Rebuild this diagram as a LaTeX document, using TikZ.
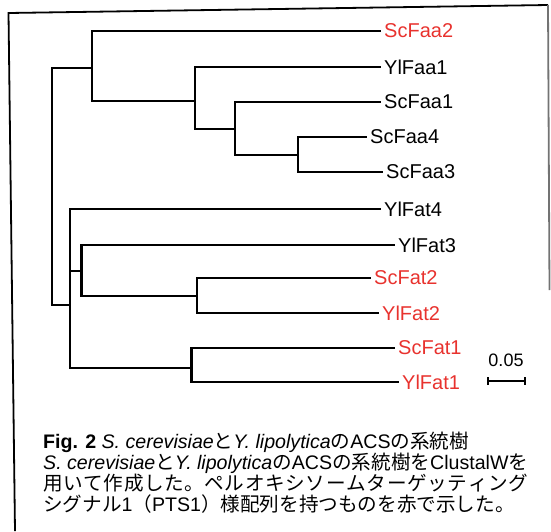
\documentclass[tikz,border=0pt]{standalone}
\usepackage{fontspec}
\setmainfont{Liberation Sans}
\newfontfamily\jpfont{Noto Sans CJK JP}
\newcommand\jp[1]{{\jpfont #1}}
\usetikzlibrary{arrows.meta}
\XeTeXlinebreaklocale "ja"
\XeTeXlinebreakskip=0pt plus 4pt minus 0.5pt
\definecolor{ptsred}{RGB}{232,50,46}
\newcommand\capline[1]{\parbox[b]{485pt}{\parfillskip=0pt\relax #1}}

\begin{document}
\begin{tikzpicture}[x=1pt, y=-1pt,
  branch/.style={line width=2.6pt, line join=miter},
  frameline/.style={line width=1.8pt},
  leaf/.style={anchor=west, inner sep=0pt, font=\fontsize{20}{24}\selectfont},
  pts/.style={leaf, text=ptsred},
  caption/.style={anchor=base west, inner sep=0pt, font=\fontsize{19.6}{20}\selectfont}]

\useasboundingbox (0,0) rectangle (551,531);

% frame (scanned page, slightly tilted)
\coordinate (fTL) at (8.5,13);
\coordinate (fTR) at (548,5);
\coordinate (fBL) at (15,531);
\coordinate (fRE) at (549.5,290);
\draw[frameline] (fBL) -- (fTL) -- (fTR);
\draw[frameline, black!55] (fTR) -- (fRE);

% leaf labels
\node[pts]  (ScFaa2) at (384,31)  {ScFaa2};
\node[leaf] (YlFaa1) at (384,67)  {YlFaa1};
\node[leaf] (ScFaa1) at (384,102) {ScFaa1};
\node[leaf] (ScFaa4) at (370,137) {ScFaa4};
\node[leaf] (ScFaa3) at (386,172) {ScFaa3};
\node[leaf] (YlFat4) at (384,209) {YlFat4};
\node[leaf] (YlFat3) at (398,245) {YlFat3};
\node[pts]  (ScFat2) at (374,278) {ScFat2};
\node[pts]  (YlFat2) at (382,313) {YlFat2};
\node[pts]  (ScFat1) at (398,348) {ScFat1};
\node[pts]  (YlFat1) at (402,382) {YlFat1};

% internal nodes
\coordinate (nRoot) at (52,186);
\coordinate (nA) at (92,68);
\coordinate (nB) at (195,101);
\coordinate (nC) at (235,129);
\coordinate (nD) at (298,155);
\coordinate (nE) at (70,305);
\coordinate (nF) at (81.5,271);
\coordinate (nG) at (197,296);
\coordinate (nH) at (191.5,368);

% branches
\begin{scope}[branch]
  \draw (nRoot) |- (nA);
  \draw (nRoot) |- (nE);
  \draw[shorten >=3pt] (nA) |- (ScFaa2.west);
  \draw (nA) |- (nB);
  \draw[shorten >=3pt] (nB) |- (YlFaa1.west);
  \draw (nB) |- (nC);
  \draw[shorten >=3pt] (nC) |- (ScFaa1.west);
  \draw (nC) |- (nD);
  \draw[shorten >=3pt] (nD) |- (ScFaa4.west);
  \draw[shorten >=3pt] (nD) |- (ScFaa3.west);
  \draw[shorten >=3pt] (nE) |- (YlFat4.west);
  \draw (nE) |- (nF);
  \draw (nE) |- (nH);
  \draw[shorten >=3pt] (nF) |- (YlFat3.west);
  \draw (nF) |- (nG);
  \draw[shorten >=3pt] (nG) |- (ScFat2.west);
  \draw[shorten >=3pt] (nG) |- (YlFat2.west);
  \draw[shorten >=3pt] (nH) |- (ScFat1.west);
  \draw[shorten >=3pt] (nH) |- (YlFat1.west);
\end{scope}

% scale bar
\coordinate (sbL) at (487,381);
\coordinate (sbR) at (526,381);
\draw[line width=2.2pt, {Bar[width=8pt]}-{Bar[width=8pt]}] (sbL) -- (sbR);
\node[anchor=base, inner sep=0pt, font=\fontsize{18}{20}\selectfont] (sbText) at (506,366) {0.05};

% caption
\node[caption] (cap1) at (43,448)
  {\textbf{Fig. 2} \textit{S. cerevisiae}\jp{と}\textit{Y. lipolytica}\jp{の}ACS\jp{の系統樹}};
\node[caption] (cap2) at (43,469)
  {\capline{\textit{S. cerevisiae}\jp{と}\textit{Y. lipolytica}\jp{の}ACS\jp{の系統樹を}ClustalW\jp{を}}};
\node[caption] (cap3) at (43,490)
  {\capline{\jp{用いて作成した。ペルオキシソームターゲッティング}}};
\node[caption] (cap4) at (43,511)
  {\jp{シグナル}1\jp{（}PTS1\jp{）様配列を持つものを赤で示した。}};
\end{tikzpicture}
\end{document}
